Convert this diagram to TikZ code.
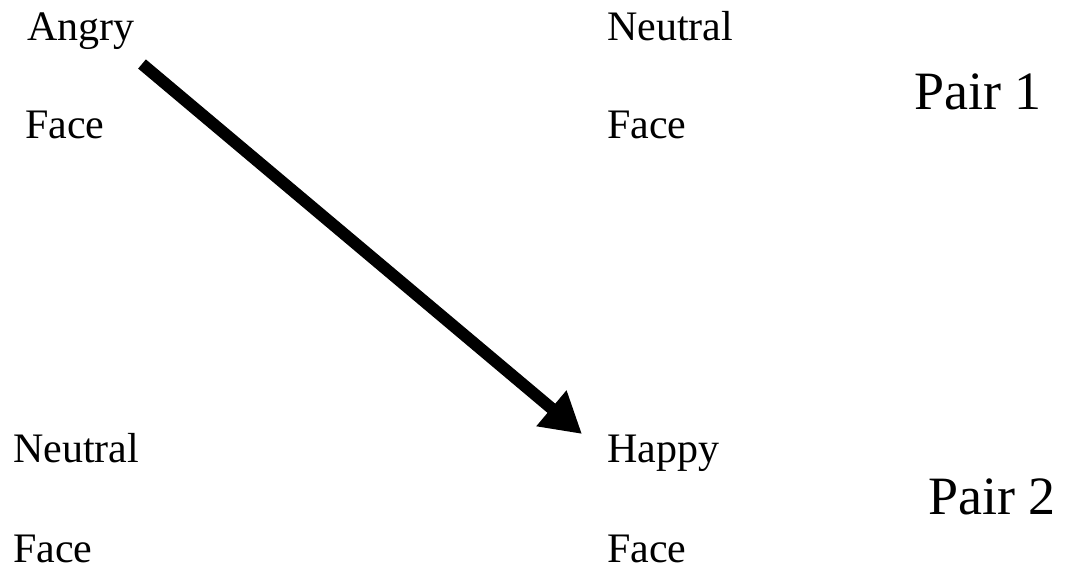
\documentclass[tikz,border=0pt]{standalone}
\usepackage{fontspec}
\setmainfont{Liberation Serif}
\usetikzlibrary{arrows.meta}
\begin{document}
\begin{tikzpicture}[x=1pt,y=-1pt,
  lbl/.style={anchor=base west,inner sep=0pt,font=\fontsize{42}{50}\selectfont},
  pairlbl/.style={anchor=base west,inner sep=0pt,font=\fontsize{54}{62}\selectfont},
  bigarrow/.style={line width=12pt,-{Triangle[length=40pt,width=44pt]}}]
\useasboundingbox (0,0) rectangle (1065,570);
\node[lbl] (angry) at (27,40) {Angry};
\node[lbl] (face1) at (25,138) {Face};
\node[lbl] (neutral1) at (607,40) {Neutral};
\node[lbl] (face2) at (607,138) {Face};
\node[pairlbl] (pair1) at (914,109) {Pair 1};
\node[lbl] (neutral2) at (13,462) {Neutral};
\node[lbl] (face3) at (13,562) {Face};
\node[lbl] (happy) at (607,462) {Happy};
\node[lbl] (face4) at (607,562) {Face};
\node[pairlbl] (pair2) at (928,514) {Pair 2};
\coordinate (astart) at (142,64);
\coordinate (aend) at (582,434);
\draw[bigarrow] (astart) -- (aend);
\end{tikzpicture}
\end{document}
